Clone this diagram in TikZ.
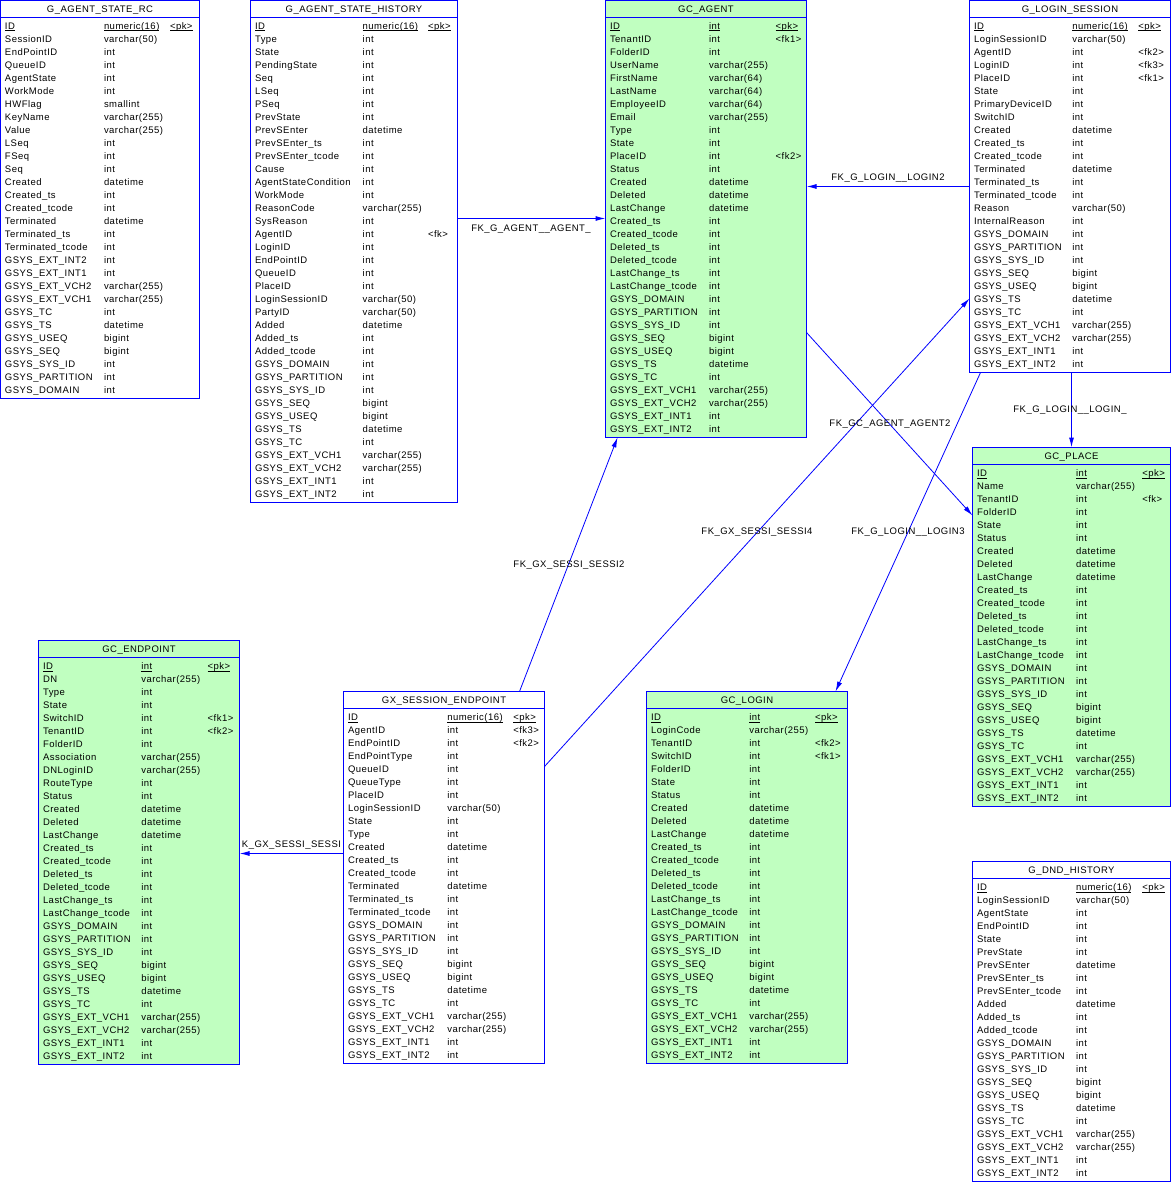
\documentclass[tikz,border=0pt]{standalone}
\usepackage{fontspec}
\setmainfont{Liberation Sans}[LetterSpace=5]
\usetikzlibrary{arrows.meta}
\definecolor{erblue}{RGB}{0,0,255}
\definecolor{ergreen}{RGB}{192,255,192}
\tikzset{
  erframe/.style={draw=erblue, line width=1pt, inner sep=0pt, outer sep=0pt, anchor=north west},
  ertxt/.style={inner sep=0pt, outer sep=0pt, text height=7pt, text depth=0pt, font=\fontsize{9.5}{11}\selectfont},
  erline/.style={draw=erblue, line width=1pt},
  erconn/.style={draw=erblue, line width=1pt, -{Latex[length=10pt,width=5pt]}},
}
\def\erdash{-}
\newcommand\erul[1]{\setbox0\hbox{#1}\rlap{\vrule width\wd0 height -1pt depth 2pt}\box0}
% #1 name, #2 title, #3 x, #4 top, #5 width, #6 rows, #7 fill, #8 type offset, #9 key offset
\newcommand\ertable[9]{%
  \pgfmathsetmacro\erh{21+13*#6}%
  \node[erframe, fill=#7, minimum width=#5pt, minimum height=\erh pt] (#1) at (#3+0.5,#4+0.5) {};
  \draw[erline] ([yshift=-17pt]#1.north west) -- ([yshift=-17pt]#1.north east);
  \node[ertxt] (#1-title) at ([yshift=-8.5pt]#1.north) {#2};
  \foreach \ern/\ert/\erk [count=\eri] in \erows {%
    \pgfmathsetmacro\ery{#4+26+(\eri-1)*13}%
    \node[ertxt, anchor=west] (#1-n\eri) at (#3+5,\ery) {\ifnum\eri=1 \erul{\ern}\else\ern\fi};
    \node[ertxt, anchor=west] (#1-t\eri) at (#3+#8,\ery) {\ifnum\eri=1 \erul{\ert}\else\ert\fi};
    \edef\erkk{\erk}%
    \ifx\erkk\erdash\else
      \node[ertxt, anchor=west] (#1-k\eri) at (#3+#9,\ery) {\ifnum\eri=1 \erul{\erk}\else\erk\fi};
    \fi
  }%
}
\begin{document}
\catcode`\_=12
\begin{tikzpicture}[x=1pt, y=-1pt]
\useasboundingbox (0,0) rectangle (1171,1182);

% G_AGENT_STATE_RC
\def\erows{ID/numeric(16)/<pk>, SessionID/varchar(50)/-, EndPointID/int/-, QueueID/int/-, AgentState/int/-, WorkMode/int/-, HWFlag/smallint/-, KeyName/varchar(255)/-, Value/varchar(255)/-, LSeq/int/-, FSeq/int/-, Seq/int/-, Created/datetime/-, Created_ts/int/-, Created_tcode/int/-, Terminated/datetime/-, Terminated_ts/int/-, Terminated_tcode/int/-, GSYS_EXT_INT2/int/-, GSYS_EXT_INT1/int/-, GSYS_EXT_VCH2/varchar(255)/-, GSYS_EXT_VCH1/varchar(255)/-, GSYS_TC/int/-, GSYS_TS/datetime/-, GSYS_USEQ/bigint/-, GSYS_SEQ/bigint/-, GSYS_SYS_ID/int/-, GSYS_PARTITION/int/-, GSYS_DOMAIN/int/-}
\ertable{rc}{G_AGENT_STATE_RC}{0}{0}{199}{29}{white}{104}{170}

% G_AGENT_STATE_HISTORY
\def\erows{ID/numeric(16)/<pk>, Type/int/-, State/int/-, PendingState/int/-, Seq/int/-, LSeq/int/-, PSeq/int/-, PrevState/int/-, PrevSEnter/datetime/-, PrevSEnter_ts/int/-, PrevSEnter_tcode/int/-, Cause/int/-, AgentStateCondition/int/-, WorkMode/int/-, ReasonCode/varchar(255)/-, SysReason/int/-, AgentID/int/<fk>, LoginID/int/-, EndPointID/int/-, QueueID/int/-, PlaceID/int/-, LoginSessionID/varchar(50)/-, PartyID/varchar(50)/-, Added/datetime/-, Added_ts/int/-, Added_tcode/int/-, GSYS_DOMAIN/int/-, GSYS_PARTITION/int/-, GSYS_SYS_ID/int/-, GSYS_SEQ/bigint/-, GSYS_USEQ/bigint/-, GSYS_TS/datetime/-, GSYS_TC/int/-, GSYS_EXT_VCH1/varchar(255)/-, GSYS_EXT_VCH2/varchar(255)/-, GSYS_EXT_INT1/int/-, GSYS_EXT_INT2/int/-}
\ertable{hist}{G_AGENT_STATE_HISTORY}{250}{0}{207}{37}{white}{112.7}{178}

% GC_AGENT
\def\erows{ID/int/<pk>, TenantID/int/<fk1>, FolderID/int/-, UserName/varchar(255)/-, FirstName/varchar(64)/-, LastName/varchar(64)/-, EmployeeID/varchar(64)/-, Email/varchar(255)/-, Type/int/-, State/int/-, PlaceID/int/<fk2>, Status/int/-, Created/datetime/-, Deleted/datetime/-, LastChange/datetime/-, Created_ts/int/-, Created_tcode/int/-, Deleted_ts/int/-, Deleted_tcode/int/-, LastChange_ts/int/-, LastChange_tcode/int/-, GSYS_DOMAIN/int/-, GSYS_PARTITION/int/-, GSYS_SYS_ID/int/-, GSYS_SEQ/bigint/-, GSYS_USEQ/bigint/-, GSYS_TS/datetime/-, GSYS_TC/int/-, GSYS_EXT_VCH1/varchar(255)/-, GSYS_EXT_VCH2/varchar(255)/-, GSYS_EXT_INT1/int/-, GSYS_EXT_INT2/int/-}
\ertable{agent}{GC_AGENT}{605}{0}{201}{32}{ergreen}{104}{170.7}

% G_LOGIN_SESSION
\def\erows{ID/numeric(16)/<pk>, LoginSessionID/varchar(50)/-, AgentID/int/<fk2>, LoginID/int/<fk3>, PlaceID/int/<fk1>, State/int/-, PrimaryDeviceID/int/-, SwitchID/int/-, Created/datetime/-, Created_ts/int/-, Created_tcode/int/-, Terminated/datetime/-, Terminated_ts/int/-, Terminated_tcode/int/-, Reason/varchar(50)/-, InternalReason/int/-, GSYS_DOMAIN/int/-, GSYS_PARTITION/int/-, GSYS_SYS_ID/int/-, GSYS_SEQ/bigint/-, GSYS_USEQ/bigint/-, GSYS_TS/datetime/-, GSYS_TC/int/-, GSYS_EXT_VCH1/varchar(255)/-, GSYS_EXT_VCH2/varchar(255)/-, GSYS_EXT_INT1/int/-, GSYS_EXT_INT2/int/-}
\ertable{ls}{G_LOGIN_SESSION}{969}{0}{201}{27}{white}{103.3}{169.3}

% GC_PLACE
\def\erows{ID/int/<pk>, Name/varchar(255)/-, TenantID/int/<fk>, FolderID/int/-, State/int/-, Status/int/-, Created/datetime/-, Deleted/datetime/-, LastChange/datetime/-, Created_ts/int/-, Created_tcode/int/-, Deleted_ts/int/-, Deleted_tcode/int/-, LastChange_ts/int/-, LastChange_tcode/int/-, GSYS_DOMAIN/int/-, GSYS_PARTITION/int/-, GSYS_SYS_ID/int/-, GSYS_SEQ/bigint/-, GSYS_USEQ/bigint/-, GSYS_TS/datetime/-, GSYS_TC/int/-, GSYS_EXT_VCH1/varchar(255)/-, GSYS_EXT_VCH2/varchar(255)/-, GSYS_EXT_INT1/int/-, GSYS_EXT_INT2/int/-}
\ertable{place}{GC_PLACE}{972}{447}{198}{26}{ergreen}{104}{170.3}

% G_DND_HISTORY
\def\erows{ID/numeric(16)/<pk>, LoginSessionID/varchar(50)/-, AgentState/int/-, EndPointID/int/-, State/int/-, PrevState/int/-, PrevSEnter/datetime/-, PrevSEnter_ts/int/-, PrevSEnter_tcode/int/-, Added/datetime/-, Added_ts/int/-, Added_tcode/int/-, GSYS_DOMAIN/int/-, GSYS_PARTITION/int/-, GSYS_SYS_ID/int/-, GSYS_SEQ/bigint/-, GSYS_USEQ/bigint/-, GSYS_TS/datetime/-, GSYS_TC/int/-, GSYS_EXT_VCH1/varchar(255)/-, GSYS_EXT_VCH2/varchar(255)/-, GSYS_EXT_INT1/int/-, GSYS_EXT_INT2/int/-}
\ertable{dnd}{G_DND_HISTORY}{972}{861}{198}{23}{white}{104}{170.3}

% GC_ENDPOINT
\def\erows{ID/int/<pk>, DN/varchar(255)/-, Type/int/-, State/int/-, SwitchID/int/<fk1>, TenantID/int/<fk2>, FolderID/int/-, Association/varchar(255)/-, DNLoginID/varchar(255)/-, RouteType/int/-, Status/int/-, Created/datetime/-, Deleted/datetime/-, LastChange/datetime/-, Created_ts/int/-, Created_tcode/int/-, Deleted_ts/int/-, Deleted_tcode/int/-, LastChange_ts/int/-, LastChange_tcode/int/-, GSYS_DOMAIN/int/-, GSYS_PARTITION/int/-, GSYS_SYS_ID/int/-, GSYS_SEQ/bigint/-, GSYS_USEQ/bigint/-, GSYS_TS/datetime/-, GSYS_TC/int/-, GSYS_EXT_VCH1/varchar(255)/-, GSYS_EXT_VCH2/varchar(255)/-, GSYS_EXT_INT1/int/-, GSYS_EXT_INT2/int/-}
\ertable{ep}{GC_ENDPOINT}{38}{640}{201}{31}{ergreen}{103.3}{169.7}

% GX_SESSION_ENDPOINT
\def\erows{ID/numeric(16)/<pk>, AgentID/int/<fk3>, EndPointID/int/<fk2>, EndPointType/int/-, QueueID/int/-, QueueType/int/-, PlaceID/int/-, LoginSessionID/varchar(50)/-, State/int/-, Type/int/-, Created/datetime/-, Created_ts/int/-, Created_tcode/int/-, Terminated/datetime/-, Terminated_ts/int/-, Terminated_tcode/int/-, GSYS_DOMAIN/int/-, GSYS_PARTITION/int/-, GSYS_SYS_ID/int/-, GSYS_SEQ/bigint/-, GSYS_USEQ/bigint/-, GSYS_TS/datetime/-, GSYS_TC/int/-, GSYS_EXT_VCH1/varchar(255)/-, GSYS_EXT_VCH2/varchar(255)/-, GSYS_EXT_INT1/int/-, GSYS_EXT_INT2/int/-}
\ertable{gx}{GX_SESSION_ENDPOINT}{343}{691}{201}{27}{white}{104.3}{170.3}

% GC_LOGIN
\def\erows{ID/int/<pk>, LoginCode/varchar(255)/-, TenantID/int/<fk2>, SwitchID/int/<fk1>, FolderID/int/-, State/int/-, Status/int/-, Created/datetime/-, Deleted/datetime/-, LastChange/datetime/-, Created_ts/int/-, Created_tcode/int/-, Deleted_ts/int/-, Deleted_tcode/int/-, LastChange_ts/int/-, LastChange_tcode/int/-, GSYS_DOMAIN/int/-, GSYS_PARTITION/int/-, GSYS_SYS_ID/int/-, GSYS_SEQ/bigint/-, GSYS_USEQ/bigint/-, GSYS_TS/datetime/-, GSYS_TC/int/-, GSYS_EXT_VCH1/varchar(255)/-, GSYS_EXT_VCH2/varchar(255)/-, GSYS_EXT_INT1/int/-, GSYS_EXT_INT2/int/-}
\ertable{login}{GC_LOGIN}{646}{691}{201}{27}{ergreen}{103.3}{169}

% connectors
\draw[erconn] ([yshift=-218pt]hist.north east) -- ([yshift=-218pt]agent.north west);
\draw[erconn] ([yshift=-186pt]ls.north west) -- ([yshift=-186pt]agent.north east);
\draw[erconn, line width=0.8pt] ([yshift=-332pt]agent.north east) -- ([yshift=-68pt]place.north west);
\draw[erconn, line width=0.8pt] ([yshift=-75pt]gx.north east) -- ([yshift=-298pt]ls.north west);
\draw[erconn, line width=0.8pt] ([xshift=11pt]ls.south west) -- ([xshift=189pt]login.north west);
\draw[erconn, line width=0.8pt] ([xshift=176pt]gx.north west) -- ([xshift=12pt]agent.south west);
\draw[erconn] ([xshift=102pt]ls.south west) -- ([xshift=99pt]place.north west);
\draw[erconn] ([yshift=-162pt]gx.north west) -- ([yshift=-213pt]ep.north east);

% connector labels
\node[ertxt] (lab1) at (531,228) {FK_G_AGENT__AGENT_};
\node[ertxt] (lab2) at (888,177) {FK_G_LOGIN__LOGIN2};
\node[ertxt] (lab3) at (890,423) {FK_GC_AGENT_AGENT2};
\node[ertxt] (lab4) at (757,531) {FK_GX_SESSI_SESSI4};
\node[ertxt] (lab5) at (908,531) {FK_G_LOGIN__LOGIN3};
\node[ertxt] (lab6) at (569,564) {FK_GX_SESSI_SESSI2};
\node[ertxt] (lab7) at (1070,409) {FK_G_LOGIN__LOGIN_};
\node[ertxt] (lab8) at (291.5,844) {K_GX_SESSI_SESSI};
\end{tikzpicture}
\end{document}
